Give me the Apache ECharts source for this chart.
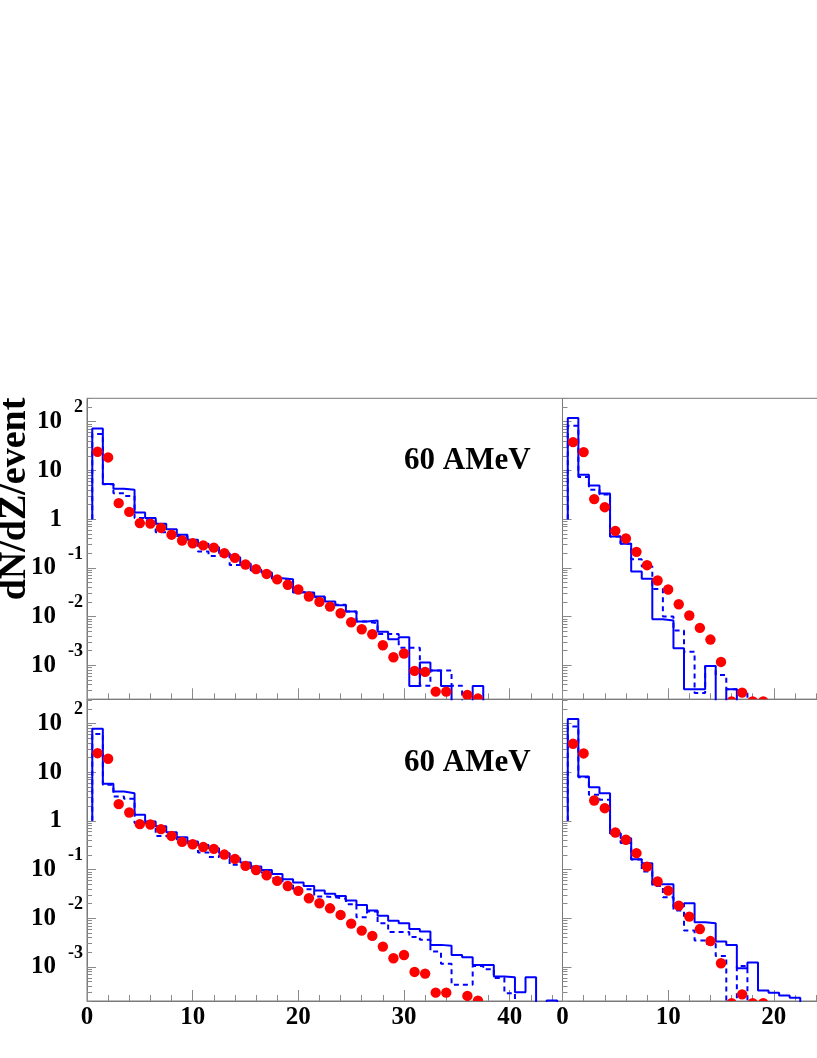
<!DOCTYPE html>
<html>
<head>
<meta charset="utf-8">
<title>dN/dZ/event</title>
<script src="https://cdn.jsdelivr.net/npm/echarts@6/dist/echarts.min.js"></script>
<style>
  html, body { margin: 0; padding: 0; background: #fff; }
  #chart { width: 817px; height: 1058px; }
</style>
</head>
<body>
<div id="chart"></div>
<script>
// red points: data, one value per charge Z = 1, 2, 3 ... (null = not shown)
const dotsTopLeft = [24.2, 18.5, 2.13, 1.41, 0.83, 0.81, 0.66, 0.48, 0.365, 0.32, 0.29, 0.26, 0.20, 0.16, 0.117, 0.094, 0.075, 0.058, 0.045, 0.036,
    0.0258, 0.0200, 0.0160, 0.0117, 0.00765, 0.0055, 0.00433, 0.00258, 0.00146, 0.00174, 0.000765, 0.00073, 0.000288, 0.000288, null, 0.000245, 0.000207]
const dotsTopRight = [38.2, 23.8, 2.58, 1.76, 0.575, 0.40, 0.213, 0.1135, 0.055, 0.0359, 0.0179, 0.0105, 0.00585, 0.00337, 0.00117, 0.00018, 0.000274, 0.00018, 0.00018]
const dotsBottomLeft = [24.5, 18.8, 2.2, 1.48, 0.855, 0.84, 0.675, 0.49, 0.37, 0.33, 0.29, 0.266, 0.203, 0.166, 0.119, 0.098, 0.0765, 0.0585, 0.046, 0.0365,
    0.0258, 0.0203, 0.016, 0.0117, 0.00777, 0.00558, 0.00434, 0.00262, 0.00151, 0.00176, 0.00079, 0.00073, 0.000297, 0.000297, null, 0.000254, 0.000203]
const dotsBottomRight = [38.2, 24.2, 2.62, 1.82, 0.575, 0.41, 0.217, 0.115, 0.0567, 0.037, 0.0182, 0.0108, 0.006, 0.0034, 0.00119, 0.00018, 0.000274, 0.00018, 0.00018]

// blue histograms: bin contents for Z = 1, 2, 3 ... (0 = empty bin)
const solidTopLeft = [73, 5.24, 4.2, 4.0, 1.37, 1.05, 0.80, 0.62, 0.48, 0.376, 0.311, 0.266, 0.2, 0.166, 0.121, 0.091, 0.080, 0.0614, 0.0586, 0.0311,
    0.0311, 0.0258, 0.0203, 0.0170, 0.0127, 0.0079, 0.0083, 0.0049, 0.00343, 0.00378, 0.000377, 0.00114, 0.00078, 0.000377, 0, 0, 0.000377]
const dashedTopLeft = [56, 5.2, 3.4, 3.0, 1.05, 0.95, 0.54, 0.50, 0.45, 0.36, 0.216, 0.176, 0.19, 0.115, 0.115, 0.088, 0.078, 0.06, 0.056, 0.032,
    0.03, 0.025, 0.02, 0.0174, 0.0127, 0.0079, 0.0073, 0.0044, 0.0044, 0.0023, 0.0023, 0.00038, 0.00078, 0.00078, 0.00038]
const solidTopRight = [119, 8.15, 4.92, 3.37, 0.44, 0.311, 0.084, 0.0594, 0.0088, 0.00827, 0.00223, 0.00032, 0.00032, 0.00097, 0, 0.00032]
const dashedTopRight = [82.7, 7.3, 4.0, 3.2, 0.44, 0.311, 0.151, 0.106, 0.037, 0.01, 0.00515, 0.0019, 0.00027, 0.00097, 0.00063, 0.00032, 0.00029]
const solidBottomLeft = [77.6, 5.75, 4.0, 3.7, 1.33, 0.97, 0.77, 0.585, 0.46, 0.376, 0.32, 0.274, 0.217, 0.171, 0.139, 0.115, 0.098, 0.081, 0.063, 0.054,
    0.046, 0.037, 0.0317, 0.0288, 0.0231, 0.0188, 0.0144, 0.0112, 0.00885, 0.0079, 0.00605, 0.00533, 0.00284, 0.00271, 0.00177, 0.00159, 0.0011, 0.0011,
    0.000636, 0.000617, 0.000303, 0.000617, 0, 0.000204]
const dashedBottomLeft = [61, 5.5, 3.16, 2.83, 0.9, 0.85, 0.49, 0.45, 0.40, 0.35, 0.224, 0.18, 0.2, 0.125, 0.13, 0.098, 0.087, 0.066, 0.05, 0.0396,
    0.0396, 0.028, 0.027, 0.025, 0.0195, 0.0105, 0.0137, 0.0079, 0.0052, 0.0052, 0.0041, 0.0036, 0.00207, 0.00116, 0.00043, 0.00043, 0.00105, 0.0009,
    0.00059, 0.00029]
const solidBottomRight = [123, 8.15, 4.92, 3.7, 0.558, 0.44, 0.163, 0.135, 0.05, 0.05, 0.0174, 0.0203, 0.00827, 0.0079, 0.00332, 0.00283, 0.00094,
    0.00123, 0.00033, 0.000297, 0.000258, 0.000234]
const dashedBottomRight = [86.7, 7.9, 3.42, 2.7, 0.55, 0.35, 0.16, 0.091, 0.046, 0.027, 0.0144, 0.0056, 0.0035, 0.003, 0.00168, 0, 0.00105]

// ticks
const xMajorTicks = [0, 10, 20, 30, 40]
const xMinorTicks = [2, 4, 6, 8, 12, 14, 16, 18, 22, 24, 26, 28, 32, 34, 36, 38, 42, 44]
const yMajorTicks = [0.001, 0.01, 0.1, 1, 10, 100]
const yMantissas = [2, 3, 4, 5, 6, 7, 8, 9]
const yDecades = [0.0001, 0.001, 0.01, 0.1, 1, 10, 100]

const xMin = 0, xMax = 45, yMin = 0.0002
const histStart = 1        // histograms open at 1 on the first bin edge
const histFloor = 1e-6     // empty bins go below the frame

const FONT = '"Liberation Serif", "Times New Roman", serif'
const frameColor = '#7a7a7a'
const tickColor = '#8a8a8a'

const panelWidth = 475.5
const layout = [
    { left: 87, top: 398.3, height: 301, yMax: 303, xLabels: false, yLabels: true },
    { left: 562.5, top: 398.3, height: 301, yMax: 303, xLabels: false, yLabels: false },
    { left: 87, top: 699.3, height: 301.7, yMax: 313, xLabels: true, yLabels: true },
    { left: 562.5, top: 699.3, height: 301.7, yMax: 313, xLabels: true, yLabels: false }
]
const panels = [
    { dots: dotsTopLeft, solid: solidTopLeft, dashed: dashedTopLeft },
    { dots: dotsTopRight, solid: solidTopRight, dashed: dashedTopRight },
    { dots: dotsBottomLeft, solid: solidBottomLeft, dashed: dashedBottomLeft },
    { dots: dotsBottomRight, solid: solidBottomRight, dashed: dashedBottomRight }
]

const yMinorTicks = []
yDecades.forEach(d => yMantissas.forEach(m => yMinorTicks.push(m * d)))

function steps(vals) {
    let pts = [[0.5, histStart]]
    vals.forEach((v, i) => {
        let y = v > 0 ? v : histFloor
        pts.push([i + 0.5, y], [i + 1.5, y])
    })
    pts.push([vals.length + 0.5, histFloor])
    return pts
}

function points(vals) {
    return vals.map((v, i) => [i + 1, v]).filter(p => p[1] != null)
}

function decadeLabel(v) {
    let e = Math.round(Math.log10(v))
    if (e === 0) return '{n|1}'
    if (e === 1) return '{n|10}'
    return '{b|10}{e|' + e + '}'
}

const labelRich = {
    n: { fontFamily: FONT, fontWeight: 'bold', fontSize: 25, color: '#000', padding: [0, 21, 0, 0] },
    b: { fontFamily: FONT, fontWeight: 'bold', fontSize: 25, color: '#000' },
    e: { fontFamily: FONT, fontWeight: 'bold', fontSize: 18, color: '#000', padding: [0, 0, 28, 12] }
}

function renderDot(params, api) {
    let p = api.coord([api.value(0), api.value(1)])
    return { type: 'circle', shape: { cx: p[0], cy: p[1], r: 5.2 }, style: { fill: '#ff0000' } }
}

let grid = [], xAxis = [], yAxis = [], series = []

layout.forEach((l, i) => {
    grid.push({
        left: l.left, top: l.top, width: panelWidth, height: l.height,
        show: true, borderColor: frameColor, borderWidth: 1,
        containLabel: false, outerBoundsMode: 'none'
    })
    xAxis.push({
        type: 'value', gridIndex: i, min: xMin, max: xMax, position: 'bottom',
        axisLine: { show: true, lineStyle: { color: frameColor, width: 1 } },
        axisTick: { show: true, inside: true, length: 11, customValues: xMajorTicks, lineStyle: { color: tickColor } },
        axisLabel: {
            show: l.xLabels, customValues: xMajorTicks, margin: 4,
            fontFamily: FONT, fontWeight: 'bold', fontSize: 25, color: '#000'
        },
        splitLine: { show: false }
    })
    yAxis.push({
        type: 'log', logBase: 10, gridIndex: i, min: yMin, max: l.yMax, position: 'left',
        axisLine: { show: true, lineStyle: { color: frameColor, width: 1 } },
        axisTick: { show: true, inside: true, length: 9, customValues: yMajorTicks, lineStyle: { color: tickColor } },
        axisLabel: {
            show: l.yLabels, customValues: yMajorTicks, margin: 4,
            showMinLabel: true, showMaxLabel: true,
            formatter: decadeLabel, rich: labelRich
        },
        splitLine: { show: false }
    })
})

// second set of axes carrying only the short ticks
layout.forEach((l, i) => {
    xAxis.push({
        type: 'value', gridIndex: i, min: xMin, max: xMax, position: 'bottom',
        axisLine: { show: false },
        axisTick: { show: true, inside: true, length: 6, customValues: xMinorTicks, lineStyle: { color: tickColor } },
        axisLabel: { show: false },
        splitLine: { show: false }
    })
    yAxis.push({
        type: 'log', logBase: 10, gridIndex: i, min: yMin, max: l.yMax, position: 'left',
        axisLine: { show: false },
        axisTick: { show: true, inside: true, length: 5, customValues: yMinorTicks, lineStyle: { color: tickColor } },
        axisLabel: { show: false },
        splitLine: { show: false }
    })
})

panels.forEach((p, i) => {
    series.push({
        type: 'line', xAxisIndex: i, yAxisIndex: i, data: steps(p.dashed),
        showSymbol: false, symbol: 'none', clip: true, silent: true, z: 2,
        lineStyle: { color: '#0000ff', width: 2, type: [5, 4] }
    })
    series.push({
        type: 'line', xAxisIndex: i, yAxisIndex: i, data: steps(p.solid),
        showSymbol: false, symbol: 'none', clip: true, silent: true, z: 2,
        lineStyle: { color: '#0000ff', width: 2 }
    })
    series.push({
        type: 'custom', xAxisIndex: i, yAxisIndex: i, data: points(p.dots),
        renderItem: renderDot, clip: true, silent: true, z: 3
    })
})

let option = {
    animation: false,
    backgroundColor: '#fff',
    grid: grid,
    xAxis: xAxis,
    yAxis: yAxis,
    series: series,
    graphic: [
        {
            type: 'text', x: 15, y: 499, rotation: Math.PI / 2,
            style: { text: 'dN/dZ/event', font: 'bold 38px ' + FONT, fill: '#000', align: 'center', verticalAlign: 'middle' }
        },
        {
            type: 'text', x: 404, y: 461,
            style: { text: '60 AMeV', font: 'bold 31px ' + FONT, fill: '#000', align: 'left', verticalAlign: 'middle' }
        },
        {
            type: 'text', x: 404, y: 762.5,
            style: { text: '60 AMeV', font: 'bold 31px ' + FONT, fill: '#000', align: 'left', verticalAlign: 'middle' }
        }
    ]
}

echarts.init(document.getElementById('chart')).setOption(option)
</script>
</body>
</html>
